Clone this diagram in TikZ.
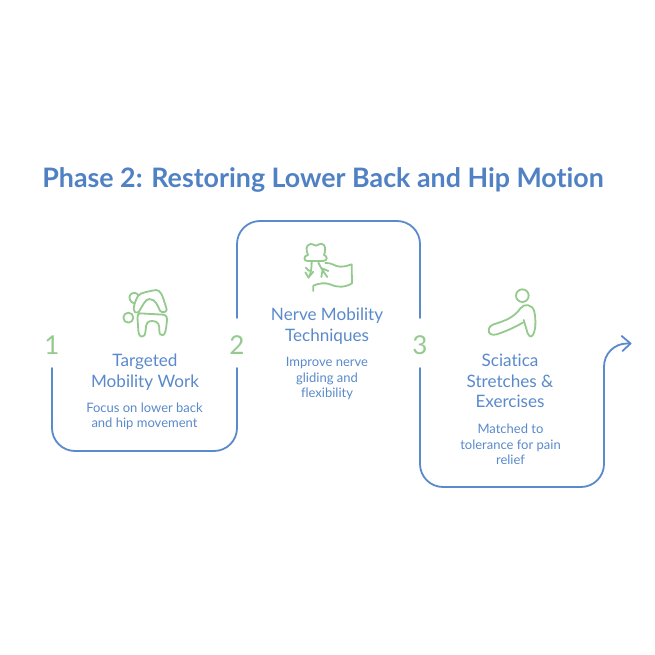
\documentclass[tikz,border=0pt]{standalone}
\usepackage{fontspec}
\setmainfont{Lato}[Ligatures=NoCommon]
\definecolor{bl}{HTML}{5A8ACB}
\definecolor{tb}{HTML}{4F81C4}
\definecolor{gr}{HTML}{94CA8E}
\tikzset{
 flow/.style={draw=bl,line width=1.8pt,line cap=round,rounded corners=23pt},
 icon/.style={draw=gr,line width=1.8pt,line cap=round,line join=round},
 num/.style={text=gr,font=\fontsize{26}{26}\selectfont,inner sep=0pt},
 head/.style={text=bl,align=center,font=\fontsize{17.1}{20.4}\selectfont,inner sep=0pt},
 desc/.style={text=bl,align=center,font=\fontsize{13}{15.3}\selectfont,inner sep=0pt},
 ttl/.style={text=tb,font=\fontsize{26.8}{30}\selectfont\bfseries,inner sep=0pt}
}
\begin{document}
\begin{tikzpicture}[x=1pt,y=-1pt]
\useasboundingbox (0,0) rectangle (655,655);
\fill[white] (0,0) rectangle (655,655);
\node[ttl] (title) at (323,179.5) {Phase 2: Restoring Lower Back and Hip Motion};
\node[num] (n1) at (52,345) {1};
\node[num] (n2) at (237,345) {2};
\node[num] (n3) at (420,345) {3};
\node[head] (h1) at (145,372) {Targeted\\Mobility Work};
\node[desc] (d1) at (144.5,416) {Focus on lower back\\and hip movement};
\node[head] (h2) at (327,326) {Nerve Mobility\\Techniques};
\node[desc] (d2) at (327,378.5) {Improve nerve\\gliding and\\flexibility};
\node[head] (h3) at (510,381) {Sciatica\\Stretches \&\\Exercises};
\node[desc] (d3) at (510.5,444.5) {Matched to\\tolerance for pain\\relief};
\coordinate (a1) at (52,368);
\coordinate (a2) at (237,368);
\coordinate (b1) at (237,318);
\coordinate (b2) at (420,318);
\coordinate (c1) at (420,368);
\coordinate (e) at (630.5,343.5);
\draw[flow] (a1) -- (52,451) -- (237,451) -- (a2);
\draw[flow] (b1) -- (237,221) -- (420,221) -- (b2);
\draw[flow] (c1) -- (420,487) -- (604,487) -- (604,343.5) -- (e);
\draw[flow,rounded corners=0pt,line join=round] (621.7,336) -- (e) -- (622.5,351);
% icon 1
\begin{scope}[shift={(110,280)},x=0.3333pt,y=-0.3333pt]
\draw[icon] (55,113) circle[radius=15];
\draw[icon] (88,100) -- (160,104) .. controls (172,106) and (172,115) .. (170,130) .. controls (168,150) and (166,165) .. (157,166) .. controls (150,166) and (148,160) .. (148,150) .. controls (148,135) and (146,124) .. (128,123) .. controls (112,122) and (108,130) .. (107,150) .. controls (106,165) and (102,171) .. (95,170) .. controls (85,168) and (85,155) .. (84,135) .. controls (83,120) and (80,104) .. (88,100) -- cycle;
\draw[icon] (84,48) .. controls (92,36) and (120,34) .. (138,30) .. controls (150,30) and (157,45) .. (162,62) .. controls (166,75) and (170,85) .. (170,90) .. controls (168,98) and (155,99) .. (150,92) .. controls (143,78) and (138,58) .. (118,57) .. controls (105,57) and (97,80) .. (86,96) .. controls (78,100) and (70,96) .. (71,88) .. controls (72,72) and (78,58) .. (84,48) -- cycle;
\draw[icon] (72,70) .. controls (58,66) and (55,50) .. (62,43) .. controls (70,36) and (80,38) .. (85,46);
\end{scope}
% icon 2
\begin{scope}[shift={(290,235)},x=0.3333pt,y=-0.3333pt]
\draw[icon] (54,60) .. controls (48,45) and (46,30) .. (62,27) .. controls (68,25) and (72,32) .. (78,32) .. controls (84,32) and (88,25) .. (94,26) .. controls (108,28) and (108,45) .. (102,60) .. controls (112,62) and (114,78) .. (100,78) -- (52,78) .. controls (40,78) and (40,62) .. (54,60) -- cycle;
\draw[icon] (65,80) .. controls (65,100) and (63,115) .. (56,128);
\draw[icon] (47,98) -- (58,108);
\draw[icon] (46,112) -- (56,128);
\draw[icon] (70,110) -- (60,122);
\draw[icon] (85,82) .. controls (90,95) and (100,110) .. (112,126);
\draw[icon] (96,100) -- (115,108);
\draw[icon] (97,108) -- (94,126);
\draw[icon] (106,84) .. controls (125,82) and (135,95) .. (150,95) .. controls (165,95) and (175,92) .. (185,88) -- (186,145) .. controls (165,158) and (140,158) .. (120,148) .. controls (105,142) and (85,145) .. (70,152) -- (70,168);
\end{scope}
% icon 3
\begin{scope}[shift={(480,280)},x=0.3333pt,y=-0.3333pt]
\draw[icon] (127,47) circle[radius=19];
\draw[icon] (128,128) .. controls (105,142) and (75,155) .. (50,163) .. controls (35,168) and (25,160) .. (26,150) .. controls (27,140) and (35,134) .. (50,130) .. controls (85,120) and (108,105) .. (122,84) .. controls (132,70) and (158,72) .. (163,95) .. controls (168,120) and (168,150) .. (158,166) .. controls (152,173) and (145,168) .. (143,160) -- (131,120);
\end{scope}
\end{tikzpicture}
\end{document}
